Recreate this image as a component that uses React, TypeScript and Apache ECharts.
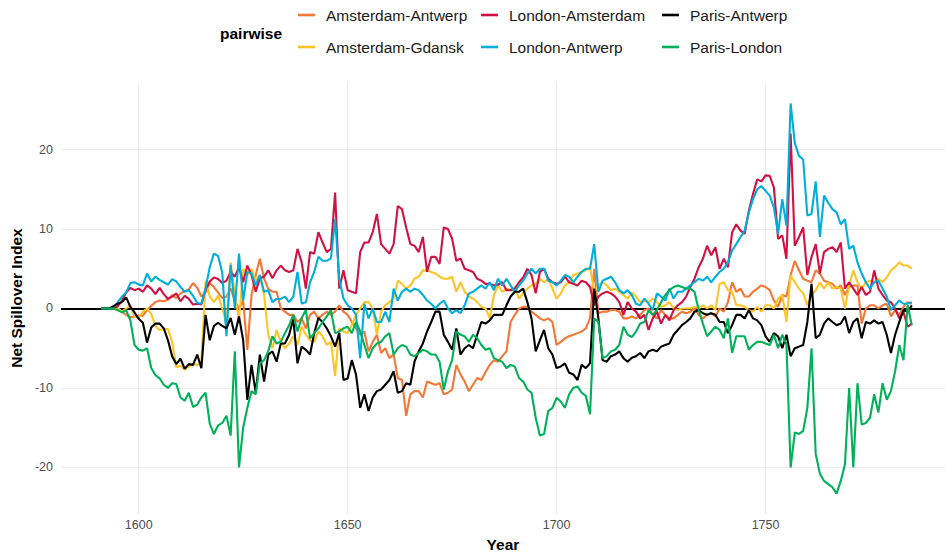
import React, { useEffect, useRef } from "react";
import * as echarts from "echarts";

const START_YEAR = 1591;

// Net spillover index per year, 1591 .. 1785 (one row = one decade, first row 1591-1600)
const amsterdamAntwerp = [
  0, 0, 0, 0, -0.2, -0.4, -0.8, -1.1, -1.0, -0.9,
  -0.9, -0.2, 0.3, 0.8, 1.0, 0.9, 1.1, 1.7, 1.3, 1.9,
  2.2, 2.4, 3.2, 2.6, 1.5, 2.0, 3.2, 2.7, 2.0, 1.3,
  1.5, 2.5, 1.0, 0, 1.0, -5.2, 1.7, 4.2, 6.25, 3.75,
  2.5, 2.1, 2.1, 0, -0.4, -0.8, -0.8, -1.7, -1.25, -2.5,
  -0.8, -0.4, -1.25, -0.8, -0.4, -0.8, -0.4, 0.4, -0.4, -0.8,
  -1.7, -2.5, -3.3, -2.9, -5.4, -4.2, -3.3, -5.6, -5.0, -6.25,
  -5.8, -8.75, -9.0, -13.5, -10.8, -10.4, -10.4, -11.2, -9.2, -9.4,
  -9.6, -9.4, -10.8, -10.6, -10.2, -7.1, -8.3, -9.2, -10.4, -9.6,
  -8.75, -9.0, -8.0, -7.1, -6.5, -6.7, -6.0, -5.4, -1.7, -0.8,
  0, 0.2, 0.2, -0.4, -0.8, -1.25, -1.5, -1.25, -1.7, -4.6,
  -4.2, -3.75, -3.5, -3.3, -3.1, -2.9, -2.5, -1.25, 5.0, -0.6,
  -0.4, -0.4, -0.2, -0.2, -0.4, -1.25, -1.25, -1.0, -1.25, -0.8,
  -0.2, 0, -0.8, -1.25, -0.2, -0.8, -1.25, -1.25, -0.8, -0.4,
  -0.6, -0.4, 0, -0.8, -1.25, -0.8, -0.6, -1.0, 0, -0.4,
  0.8, 3.3, 2.1, 2.5, 1.5, 1.5, 2.1, 2.5, 2.9, 2.7,
  2.3, 1.0, 0.2, 1.7, 1.5, 4.2, 6.0, 4.8, 3.75, 3.5,
  3.3, 4.8, 4.4, 3.5, 3.3, 3.1, 2.5, 2.9, 1.7, 2.7,
  2.9, 2.9, -1.9, 0, 0.4, 0.4, 0, 0.4, 0.6, -1.0,
  -0.2, -0.8, 0.2, 0.8, 0.6,
];

const amsterdamGdansk = [
  0, 0, 0, 0, 0.1, -0.4, 0, 0.4, -1.0, -1.2,
  -0.4, 0, -0.7, -2.2, -2.7, -2.6, -2.6, -4.2, -7.4, -7.2,
  -7.7, -7.3, -7.0, -7.1, -6.8, 3.5, 1.5, 0.8, 1.6, 0,
  -2.0, 5.8, 2.0, -1.5, 5.0, 4.2, 5.0, 3.5, 4.2, 1.7,
  -3.3, -5.0, -2.7, -4.2, -5.0, -4.4, -3.5, -4.6, -2.3, -3.3,
  -4.0, -4.2, -2.9, -3.5, -4.6, -4.2, -8.5, -2.5, -2.9, -3.1,
  -2.1, -0.8, 0, 0.8, 0.8, 0, -3.3, -0.4, 0.4, 0.8,
  1.25, 3.5, 3.1, 2.5, 2.9, 3.75, 4.0, 4.8, 4.8, 4.6,
  4.4, 4.0, 3.75, 3.75, 4.0, 2.1, 3.3, 2.1, 1.5, 1.25,
  0.8, 0.2, 0, -1.25, 1.7, 2.9, 2.1, 2.5, 2.3, 2.7,
  1.25, 1.9, 2.5, 2.9, 3.1, 3.75, 3.3, 3.75, 2.5, 1.25,
  1.9, 2.9, 3.3, 4.2, 4.4, 4.6, 4.8, 5.2, 2.1, 2.9,
  3.3, 2.9, 2.3, 2.5, 2.1, 1.7, 1.25, 2.0, 1.5, 0.8,
  1.0, 0.8, 1.25, 0.8, 0.2, 0.4, 0.8, 0, -0.2, 0,
  0, 0, 0.2, 0, 0.4, 0, 0.4, -0.2, 3.1, 3.3,
  2.3, 2.1, 0.4, 0.4, 0.2, -0.2, -0.4, 0.2, -0.4, 0.4,
  0.4, 0, 1.25, 1.7, -1.7, 4.2, 3.3, 2.5, 1.9, 0.4,
  1.7, 2.3, 3.3, 2.5, 3.3, 2.5, 2.7, 2.5, 0, 2.9,
  4.8, 3.3, 2.5, 3.3, 3.5, 3.3, 3.75, 3.3, 3.9, 4.8,
  5.2, 5.8, 5.4, 5.4, 5.0,
];

const londonAmsterdam = [
  0, 0, 0, 0, 0.3, 1.0, 2.0, 2.6, 2.3, 2.5,
  2.1, 2.9, 2.5, 1.8, 2.6, 1.8, 1.2, 1.5, 1.9, 0.9,
  1.6, 1.2, 0.5, 0.6, 0.5, 2.4, 3.4, 3.9, 3.7, 3.2,
  3.5, 4.6, 4.0, 5.2, 3.3, 5.4, 4.2, 2.1, 3.8, 4.0,
  4.8, 3.8, 4.8, 5.4, 4.8, 4.6, 4.8, 7.5, 5.8, 2.5,
  7.1, 6.9, 9.6, 8.3, 7.1, 7.5, 14.6, 2.5, 4.8, 2.3,
  2.1, 1.9, 7.1, 8.3, 8.3, 9.6, 11.9, 8.1, 7.5, 6.9,
  8.1, 12.9, 12.5, 10.2, 8.1, 7.9, 7.1, 9.0, 4.6, 6.5,
  6.5, 5.6, 10.2, 10.0, 8.8, 6.0, 6.3, 5.0, 4.8, 4.6,
  3.75, 3.5, 3.1, 3.1, 2.9, 3.0, 3.3, 2.3, 2.3, 2.5,
  3.3, 3.9, 5.0, 4.2, 1.9, 4.6, 5.0, 3.75, 3.3, 3.1,
  3.3, 4.0, 3.3, 3.1, 2.9, 3.5, 3.3, 2.7, 0.4, 1.5,
  1.9, 2.1, 1.9, 1.5, 0.8, -0.8, 0.8, 0, -0.4, -1.25,
  -0.8, -2.7, -1.25, -0.4, -1.9, -0.8, -1.5, -0.2, 0.4, 0.8,
  1.5, 2.7, 3.75, 5.2, 6.25, 7.9, 6.7, 7.7, 5.0, 6.25,
  5.2, 9.6, 10.6, 9.8, 9.4, 12.3, 14.4, 16.25, 16.0, 16.75,
  16.7, 15.2, 8.75, 9.2, 6.25, 22.0, 7.9, 9.0, 10.2, 4.2,
  6.5, 8.1, 4.4, 7.1, 7.5, 7.7, 7.1, 8.3, 2.5, 3.3,
  2.5, 1.7, 2.7, 1.7, 2.1, 4.8, 2.5, 1.7, 1.0, 0.8,
  0, -1.25, -0.4, -2.3, -1.9,
];

const londonAntwerp = [
  0, 0, 0, 0.2, 0.8, 1.5, 2.0, 3.2, 3.3, 3.0,
  2.9, 4.4, 3.4, 4.0, 3.6, 3.3, 3.0, 3.7, 3.4, 2.7,
  2.1, 2.3, 1.6, 0.7, 0.6, 2.5, 5.2, 6.9, 6.6, 4.5,
  -3.5, 5.5, 0.0, 6.9, 1.0, 4.6, 4.4, 2.9, 4.2, 2.1,
  2.3, 0.8, 1.2, 1.2, 1.5, 0.8, 1.5, 4.6, 0.6, 0.8,
  3.3, 4.6, 6.5, 6.0, 6.0, 6.3, 11.2, 3.75, 1.25, 0.4,
  0, -0.8, -6.25, 0.6, -1.25, 0, -1.7, -1.7, -0.4, -1.7,
  2.5, 1.0, 2.1, 2.5, 2.1, 2.5, 2.3, 1.7, 1.0, 0.6,
  0, 0.6, 1.0, 0, -0.6, -0.2, -0.6, 0.4, 1.9, 2.1,
  2.5, 2.9, 2.5, 3.3, 2.3, 3.75, 2.9, 3.75, 2.9, 2.1,
  2.9, 3.5, 4.4, 5.0, 4.4, 5.0, 5.0, 3.5, 3.3, 2.9,
  3.5, 4.2, 4.0, 3.3, 4.0, 4.6, 5.0, 5.0, 8.1, 2.1,
  3.5, 3.75, 4.0, 3.3, 2.3, 1.9, 2.3, 1.7, 0.6, 0.4,
  1.25, 0.6, -0.2, 1.9, 1.5, 1.0, 2.5, 1.25, 2.1, 2.1,
  2.5, 2.9, 3.3, 3.75, 3.5, 4.0, 3.3, 4.0, 4.6, 5.0,
  5.8, 7.3, 8.1, 9.0, 9.8, 12.1, 13.75, 15.0, 15.4, 14.8,
  14.2, 12.7, 9.4, 13.75, 10.4, 25.8, 20.8, 19.2, 18.75, 11.7,
  11.9, 16.0, 9.0, 14.2, 13.3, 12.5, 12.1, 10.6, 11.25, 7.5,
  7.9, 5.8, 4.4, 3.3, 2.5, 3.3, 3.5, 2.5, 1.5, -0.2,
  0.4, 1.0, 0.6, 0.6, 0.8,
];

const parisAntwerp = [
  0, 0, 0, 0.3, 0.6, 0.8, 1.4, 0.2, -0.5, -1.3,
  -1.8, -4.3, -2.4, -1.9, -1.9, -2.5, -4.0, -6.0, -7.0, -6.3,
  -7.6, -7.0, -7.1, -5.8, -7.5, -0.8, -4.0, -2.2, -1.8, -2.2,
  -2.5, -1.2, -3.3, -1.0, -4.0, -11.5, -7.1, -10.6, -5.8, -9.2,
  -5.8, -5.4, -6.7, -4.4, -4.4, -3.3, -1.3, -6.9, -4.8, -5.2,
  -5.8, -3.1, -1.2, -1.7, -2.5, -3.5, -4.8, -3.1, -9.0, -8.8,
  -6.5, -8.3, -12.5, -10.8, -12.9, -11.2, -10.4, -10.2, -9.6, -9.0,
  -7.9, -10.6, -10.4, -9.4, -9.6, -6.7, -5.4, -4.4, -2.9, -1.7,
  -0.4, -0.4, -3.3, -4.2, -5.2, -2.5, -5.8, -5.0, -4.6, -5.0,
  -3.3, -1.7, -1.9, -1.5, -0.8, -0.8, -0.8, 0.4, 1.5, 2.1,
  2.1, 2.5, 0.8, -1.25, -5.4, -4.0, -2.7, -5.0, -5.8, -7.5,
  -7.3, -6.9, -8.1, -8.3, -9.0, -7.1, -7.5, -6.9, 2.5, -1.25,
  -6.5, -6.7, -6.0, -5.8, -5.4, -6.25, -6.7, -6.2, -6.0, -5.6,
  -6.25, -5.4, -5.2, -5.4, -4.8, -4.6, -4.4, -3.3, -2.7, -2.1,
  -1.7, -1.25, -0.4, -0.2, -0.6, -0.8, -0.6, -0.8, -1.7, -1.7,
  -3.1, -2.1, -0.8, -0.8, -1.25, -0.2, -1.25, -1.5, -2.1, -3.5,
  -4.2, -3.1, -3.5, -5.0, -3.3, -6.0, -5.0, -4.8, -4.6, -1.7,
  3.1, -3.75, -3.3, -1.9, -1.25, -1.7, -2.1, -1.9, -1.0, -3.1,
  -1.7, -1.25, -3.75, -1.7, -1.9, -1.5, -1.9, -1.7, -3.3, -5.6,
  -3.3, -1.7, -0.2, -0.4, 0.4,
];

const parisLondon = [
  0, 0, 0, 0, -0.2, -0.5, -0.2, -1.5, -4.6, -5.2,
  -5.3, -5.0, -7.5, -8.4, -8.8, -9.6, -10.0, -9.4, -9.5, -11.2,
  -11.6, -10.6, -12.4, -12.1, -11.2, -10.6, -14.5, -15.8, -14.7, -14.4,
  -13.5, -16.0, -5.4, -20.0, -15.0, -12.5, -10.4, -10.8, -6.9, -6.5,
  -5.4, -3.5, -4.4, -4.2, -3.1, -2.1, -0.8, -2.9, -1.2, -0.2,
  -3.75, -3.1, -2.5, -1.7, -1.0, -0.2, -3.1, -2.9, -2.5, -2.3,
  -3.1, -1.7, -2.9, -4.6, -6.25, -5.0, -4.4, -4.2, -3.5, -3.1,
  -5.8, -5.0, -4.6, -4.8, -5.8, -6.0, -5.6, -5.2, -5.4, -5.8,
  -5.8, -6.7, -10.2, -7.9, -6.5, -2.9, -3.3, -3.5, -4.2, -3.3,
  -3.75, -4.6, -5.2, -5.0, -6.25, -6.5, -6.7, -7.5, -7.1, -7.3,
  -8.75, -9.2, -10.2, -10.6, -13.75, -16.0, -15.8, -12.9, -12.5, -11.25,
  -11.7, -12.5, -10.8, -10.0, -9.8, -10.6, -11.0, -13.3, -1.25, -1.7,
  -6.25, -6.0, -5.4, -5.2, -4.6, -2.3, -3.3, -3.6, -2.9, -1.9,
  -1.7, -0.2, -0.8, -0.2, 0.8, 1.7, 2.3, 2.7, 2.9, 2.7,
  2.5, 2.5, 2.1, -0.2, -1.9, -3.5, -2.9, -2.3, -2.7, -3.75,
  -1.25, -5.6, -3.5, -3.5, -3.5, -5.2, -4.6, -4.2, -4.2, -4.4,
  -4.6, -3.3, -5.0, -3.3, -4.5, -20.0, -15.6, -15.8, -15.4, -12.5,
  -5.0, -18.3, -20.8, -21.7, -22.1, -22.5, -23.3, -21.7, -19.6, -10.0,
  -20.0, -9.4, -14.6, -14.4, -13.75, -10.8, -13.1, -9.4, -11.5, -10.4,
  -7.9, -4.6, -6.5, 0.4, -2.1,
];

const years = amsterdamAntwerp.map((_, i) => START_YEAR + i);

const xTickValues = [1600, 1650, 1700, 1750];
const yTickValues = [-20, -10, 0, 10, 20];
const yGridValues = [-20, -10, 10, 20];

const legendTitle = "pairwise";
const seriesNames = [
  "Amsterdam-Antwerp",
  "Amsterdam-Gdansk",
  "London-Amsterdam",
  "London-Antwerp",
  "Paris-Antwerp",
  "Paris-London",
];
const seriesValues = [
  amsterdamAntwerp,
  amsterdamGdansk,
  londonAmsterdam,
  londonAntwerp,
  parisAntwerp,
  parisLondon,
];
const seriesColors = ["#f37735", "#ffc425", "#d11141", "#00aedb", "#000000", "#00b159"];

const FONT = "'Liberation Sans', Arial, Helvetica, sans-serif";

// legend layout: [left, top] of each item (3 columns x 2 rows)
const legendSlots: Record<string, [number, number]> = {
  "Amsterdam-Antwerp": [298, 7],
  "London-Amsterdam": [481, 7],
  "Paris-Antwerp": [662, 7],
  "Amsterdam-Gdansk": [298, 39],
  "London-Antwerp": [481, 39],
  "Paris-London": [662, 39],
};

export default function App() {
  const ref = useRef<HTMLDivElement>(null);

  useEffect(() => {
    document.body.style.margin = "0";
    if (!ref.current) return;
    const chart = echarts.init(ref.current, undefined, { renderer: "svg" });

    const lineSeries = seriesNames.map((name, k) => ({
      name,
      type: "line",
      data: years.map((yr, i) => [yr, seriesValues[k][i]]),
      showSymbol: false,
      symbol: "none",
      smooth: false,
      z: 3,
      lineStyle: { color: seriesColors[k], width: 2.1 },
      itemStyle: { color: seriesColors[k] },
      emphasis: { disabled: true },
    }));

    const gridSeries = {
      name: "__grid",
      type: "line",
      data: [[years[0], 0]],
      showSymbol: false,
      symbol: "none",
      silent: true,
      lineStyle: { width: 0, opacity: 0 },
      z: 1,
      markLine: {
        silent: true,
        z: 1,
        symbol: ["none", "none"],
        label: { show: false },
        emphasis: { disabled: true },
        animation: false,
        data: [
          ...yGridValues.map((v) => ({ yAxis: v, lineStyle: { color: "#ebebeb", width: 1.1, type: "solid" } })),
          ...xTickValues.map((v) => ({ xAxis: v, lineStyle: { color: "#ebebeb", width: 1.1, type: "solid" } })),
          { yAxis: 0, lineStyle: { color: "#000000", width: 1.8, type: "solid" } },
        ],
      },
    };

    const legends = seriesNames.map((name) => ({
      show: true,
      data: [name],
      left: legendSlots[name][0],
      top: legendSlots[name][1],
      orient: "horizontal",
      padding: 0,
      icon: "rect",
      itemWidth: 17,
      itemHeight: 2.6,
      selectedMode: false,
      textStyle: { fontSize: 15.5, color: "#1a1a1a", fontFamily: FONT, padding: [0, 0, 0, 6] },
    }));

    chart.setOption({
      animation: false,
      backgroundColor: "#ffffff",
      textStyle: { fontFamily: FONT },
      grid: { left: 58, right: 0, top: 82, height: 435, containLabel: false },
      xAxis: {
        type: "value",
        min: 1581.4,
        max: 1792.94,
        axisLine: { show: false },
        axisTick: { show: false },
        splitLine: { show: false },
        axisLabel: {
          customValues: xTickValues,
          formatter: (v: number) => String(v),
          color: "#4d4d4d",
          fontSize: 12.5,
          margin: 4,
          fontFamily: FONT,
        },
        name: "Year",
        nameLocation: "middle",
        nameGap: 21,
        nameTextStyle: { fontWeight: "bold", fontSize: 15.5, color: "#000000", fontFamily: FONT },
      },
      yAxis: {
        type: "value",
        min: -25.875,
        max: 28.5,
        axisLine: { show: false },
        axisTick: { show: false },
        splitLine: { show: false },
        axisLabel: {
          customValues: yTickValues,
          formatter: (v: number) => String(v),
          color: "#4d4d4d",
          fontSize: 12.5,
          margin: 8,
          fontFamily: FONT,
        },
        name: "Net Spillover Index",
        nameLocation: "middle",
        nameRotate: 90,
        nameGap: 31,
        nameTextStyle: { fontWeight: "bold", fontSize: 15.5, color: "#000000", fontFamily: FONT },
      },
      legend: legends,
      graphic: [
        {
          type: "text",
          x: 220,
          y: 33,
          style: {
            text: legendTitle,
            fontSize: 15.5,
            fontWeight: "bold",
            fontFamily: FONT,
            fill: "#000000",
            textVerticalAlign: "middle",
            verticalAlign: "middle",
          },
        },
      ],
      series: [gridSeries, ...lineSeries],
    });

    return () => chart.dispose();
  }, []);

  return <div ref={ref} style={{ width: 945, height: 557 }} />;
}
